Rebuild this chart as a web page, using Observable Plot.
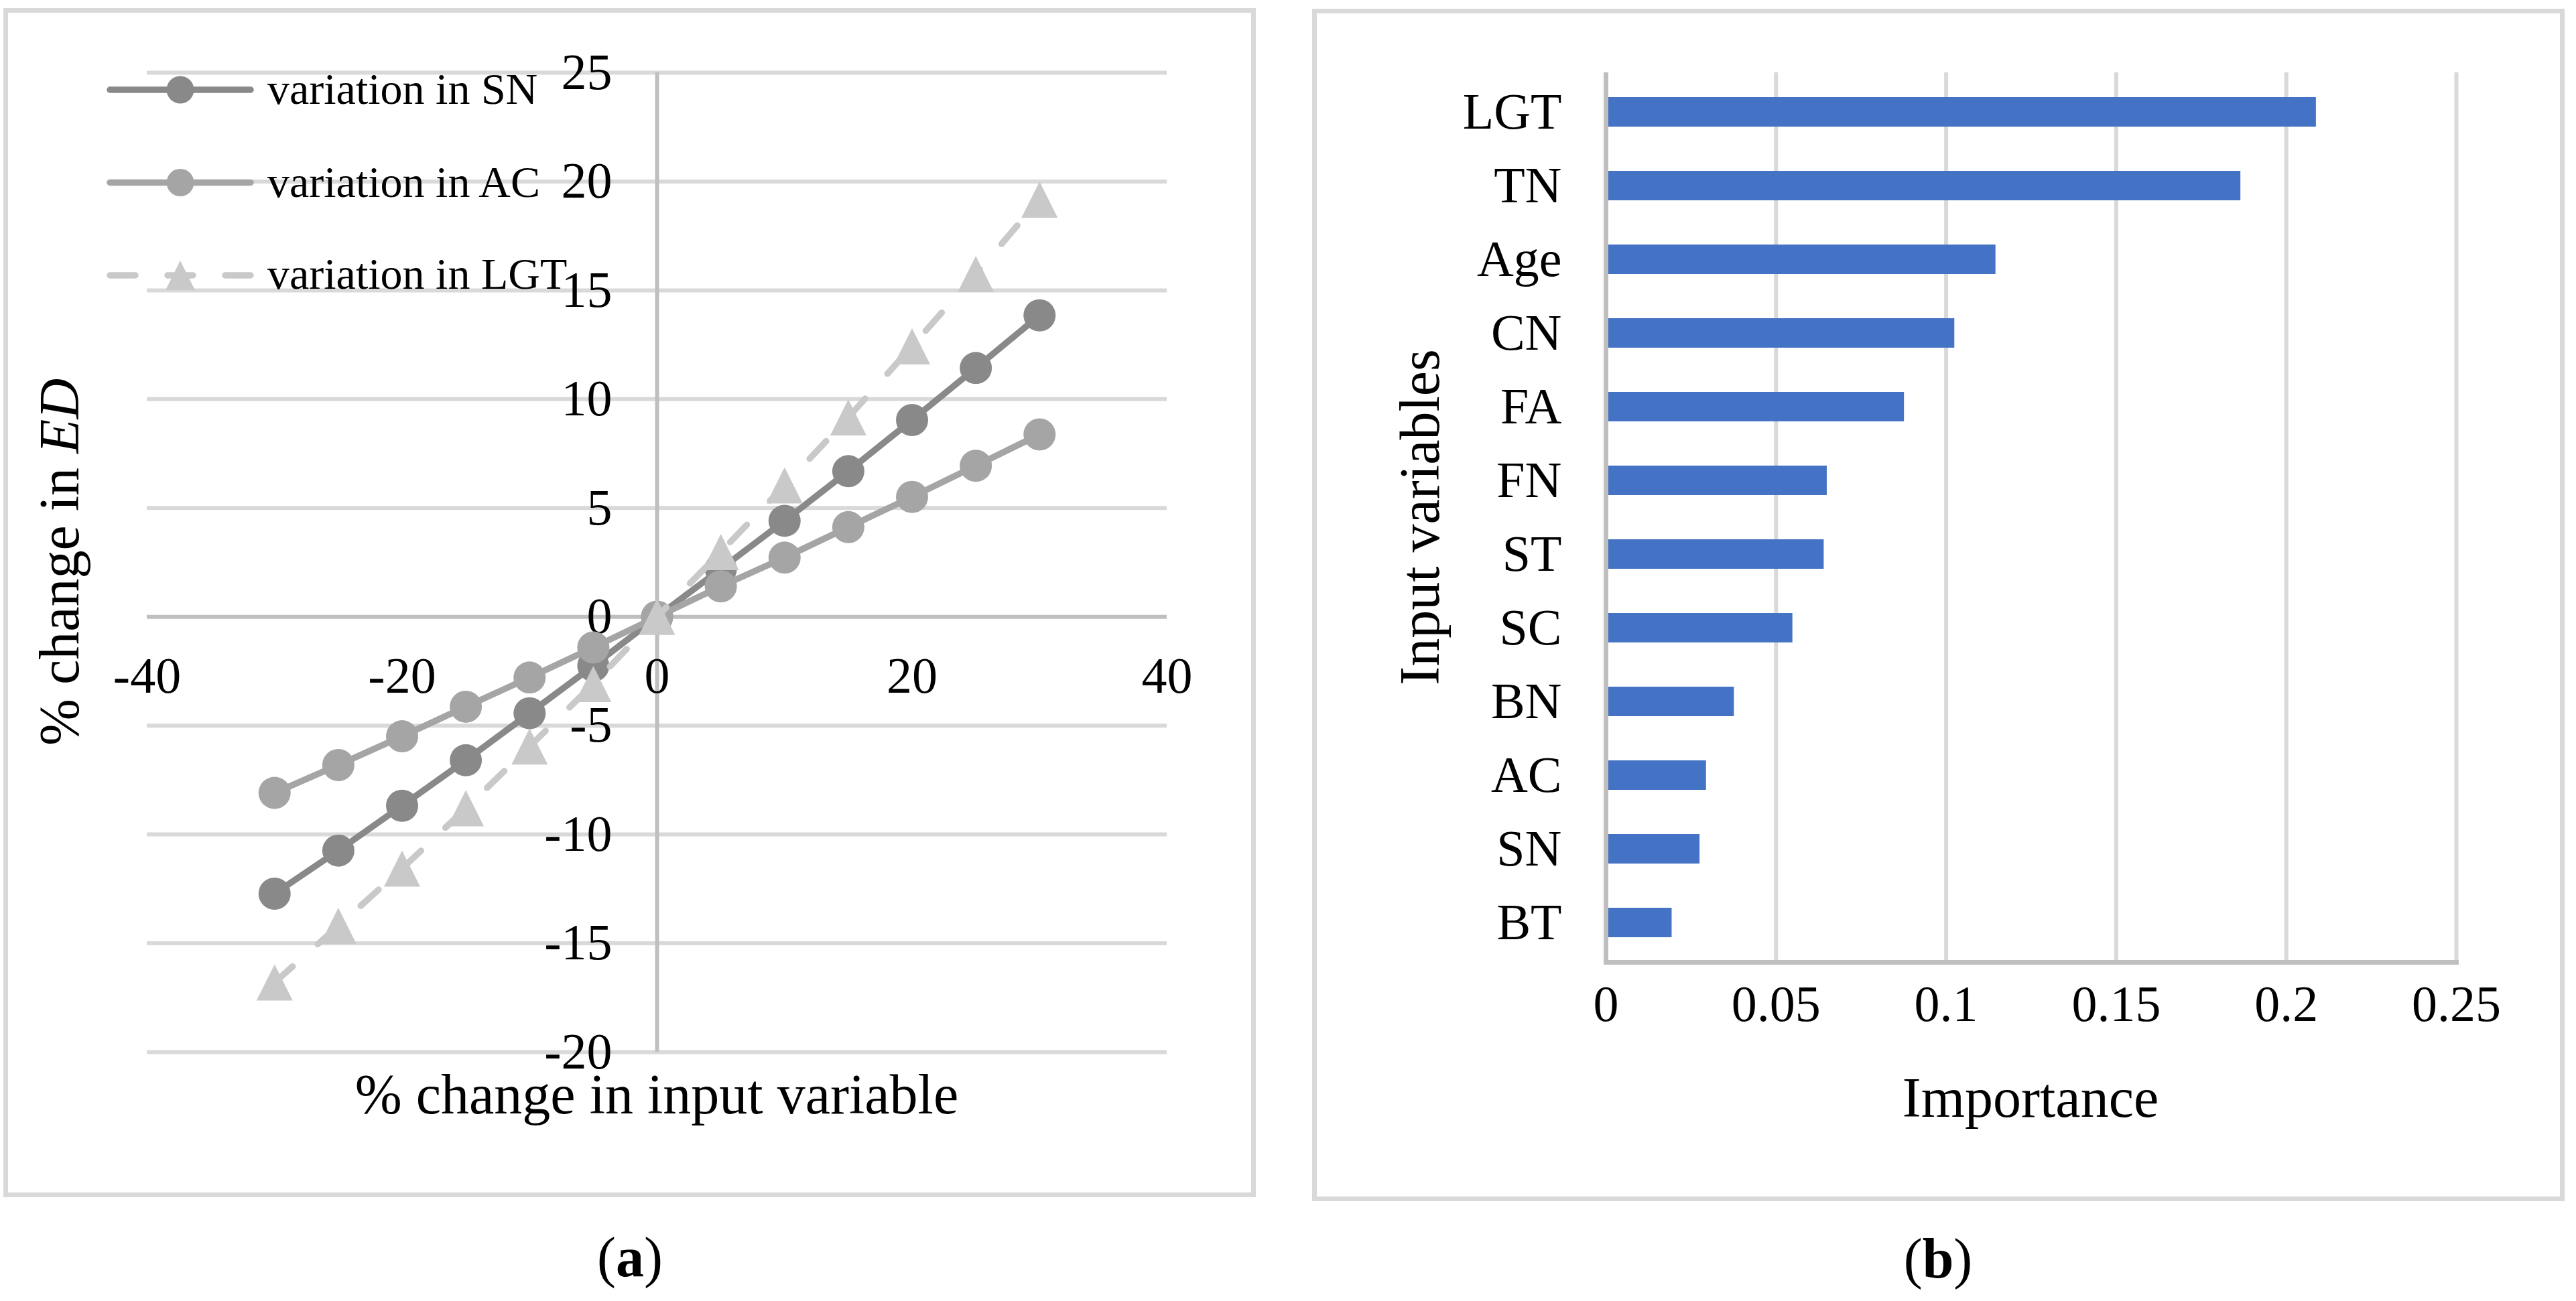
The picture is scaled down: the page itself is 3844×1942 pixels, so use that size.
<!DOCTYPE html>
<html>
<head>
<meta charset="utf-8">
<script src="https://cdn.jsdelivr.net/npm/d3@7"></script>
<script src="https://cdn.jsdelivr.net/npm/@observablehq/plot@0.6"></script>
<style>
  html, body { margin: 0; padding: 0; background: #ffffff; }
  #root { position: relative; width: 3844px; height: 1942px; overflow: hidden;
          font-family: "Liberation Serif", "Times New Roman", serif; color: #000; }
  .panel { position: absolute; box-sizing: border-box; border: 7px solid #d9d9d9; }
  .layer { position: absolute; left: 0; top: 0; }
  svg text { font-family: "Liberation Serif", "Times New Roman", serif; }
</style>
</head>
<body>
<div id="root">
  <div class="panel" style="left:5px;top:12px;width:1869px;height:1775px;"></div>
  <div class="panel" style="left:1958px;top:13px;width:1869px;height:1780px;"></div>
  <div id="left" class="layer" style="left:0px;top:0px;"></div>
  <div id="right" class="layer" style="left:1958px;top:0px;"></div>
  <svg class="layer" width="3844" height="1942" style="pointer-events:none">
    <!-- legend (a) -->
    <g>
      <line x1="164" y1="134" x2="374" y2="134" stroke="#898989" stroke-width="9.5" stroke-linecap="round"/>
      <circle cx="269" cy="134" r="20.5" fill="#898989"/>
      <text x="399" y="155" font-size="66">variation in SN</text>
      <line x1="164" y1="272.5" x2="374" y2="272.5" stroke="#a5a5a5" stroke-width="9.5" stroke-linecap="round"/>
      <circle cx="269" cy="272.5" r="20.5" fill="#a5a5a5"/>
      <text x="399" y="293.5" font-size="66">variation in AC</text>
      <line x1="164" y1="411" x2="374" y2="411" stroke="#c9c9c9" stroke-width="9.5" stroke-linecap="round" stroke-dasharray="38,48"/>
      <polygon points="269,389 291,433 247,433" fill="#c9c9c9"/>
      <text x="399" y="431" font-size="66">variation in LGT</text>
    </g>
    <!-- axis titles and captions -->
    <text transform="translate(117,839) rotate(-90)" text-anchor="middle" font-size="84">% change in <tspan font-style="italic">ED</tspan></text>
    <text x="980" y="1662" text-anchor="middle" font-size="84">% change in input variable</text>
    <text x="940" y="1905" text-anchor="middle" font-size="84">(<tspan font-weight="bold">a</tspan>)</text>
    <text transform="translate(2147,772) rotate(-90)" text-anchor="middle" font-size="84">Input variables</text>
    <text x="3030" y="1667" text-anchor="middle" font-size="84">Importance</text>
    <text x="2892" y="1907" text-anchor="middle" font-size="84">(<tspan font-weight="bold">b</tspan>)</text>
  </svg>
</div>
<script>
// ---------- data: panel (a) ----------
const xPct    = [-30, -25, -20, -15, -10, -5, 0, 5, 10, 15, 20, 25, 30];
const snVals  = [-12.72, -10.74, -8.68, -6.59, -4.43, -2.25, 0, 2.2, 4.41, 6.69, 9.04, 11.43, 13.85];
const acVals  = [-8.09, -6.81, -5.49, -4.13, -2.79, -1.41, 0, 1.40, 2.72, 4.12, 5.51, 6.94, 8.38];
const lgtVals = [-16.8, -14.2, -11.57, -8.8, -5.96, -3.09, 0, 2.98, 6.04, 9.16, 12.43, 15.75, 19.17];
const xTicks  = [-40, -20, 0, 20, 40];
const yTicks  = [-20, -15, -10, -5, 0, 5, 10, 15, 20, 25];

// ---------- data: panel (b) ----------
const variables  = ["LGT", "TN", "Age", "CN", "FA", "FN", "ST", "SC", "BN", "AC", "SN", "BT"];
const importance = [0.2088, 0.1866, 0.1146, 0.1025, 0.0877, 0.0650, 0.0641, 0.0549, 0.0377, 0.0295, 0.0276, 0.0194];
const impTicks   = [0, 0.05, 0.1, 0.15, 0.2, 0.25];

const toPoints = vals => xPct.map((x, i) => ({x, y: vals[i]}));
const snData = toPoints(snVals);
const acData = toPoints(acVals);
const lgtData = toPoints(lgtVals);
const barTable = variables.map((v, i) => ({variable: v, importance: importance[i]}));

// Excel-like isosceles triangle centred on its bounding box
const excelTriangle = {
  draw(context, size) {
    const r = Math.sqrt(size / Math.PI);
    const h = r * 1.125;
    context.moveTo(0, -h);
    context.lineTo(h, h);
    context.lineTo(-h, h);
    context.closePath();
  }
};

const baseStyle = {fontFamily: "Liberation Serif, Times New Roman, serif", background: "transparent", color: "#000", overflow: "visible"};

const left = Plot.plot({
  width: 1870, height: 1800,
  marginLeft: 219, marginRight: 129, marginTop: 108, marginBottom: 230,
  x: {domain: [-40, 40], axis: null},
  y: {domain: [-20, 25], axis: null},
  style: baseStyle,
  marks: [
    Plot.ruleY(yTicks.filter(d => d !== 0), {stroke: "#d9d9d9", strokeWidth: 6}),
    Plot.ruleY([0], {stroke: "#bfbfbf", strokeWidth: 6}),
    Plot.ruleX([0], {stroke: "#bfbfbf", strokeWidth: 6}),
    Plot.text(yTicks, {x: () => 0, y: d => d, text: d => String(d), textAnchor: "end", dx: -67, fontSize: 76, fill: "#000"}),
    Plot.text(xTicks, {x: d => d, y: () => 0, text: d => String(d), dy: 89, fontSize: 76, fill: "#000"}),
    Plot.line(snData, {x: "x", y: "y", stroke: "#898989", strokeWidth: 9.5, strokeLinejoin: "round"}),
    Plot.dot(snData, {x: "x", y: "y", r: 24, fill: "#898989"}),
    Plot.line(acData, {x: "x", y: "y", stroke: "#a5a5a5", strokeWidth: 9.5, strokeLinejoin: "round"}),
    Plot.dot(acData, {x: "x", y: "y", r: 24, fill: "#a5a5a5"}),
    Plot.line(lgtData, {x: "x", y: "y", stroke: "#c9c9c9", strokeWidth: 9.5, strokeLinecap: "round", strokeDasharray: "36,50"}),
    Plot.dot(lgtData, {x: "x", y: "y", r: 24, symbol: excelTriangle, fill: "#c9c9c9"})
  ]
});
document.getElementById("left").appendChild(left);

const right = Plot.plot({
  width: 1886, height: 1800,
  marginLeft: 438, marginRight: 179, marginTop: 108, marginBottom: 364,
  x: {domain: [0, 0.25], axis: null},
  y: {domain: variables, axis: null, paddingInner: 0.6, paddingOuter: 0.3},
  style: baseStyle,
  marks: [
    Plot.ruleX(impTicks.filter(d => d > 0), {stroke: "#d9d9d9", strokeWidth: 6}),
    Plot.frame({anchor: "bottom", stroke: "#bfbfbf", strokeWidth: 7}),
    Plot.barX(barTable, {x: "importance", y: "variable", fill: "#4472c4"}),
    Plot.ruleX([0], {stroke: "#bfbfbf", strokeWidth: 7}),
    Plot.text(variables, {y: d => d, frameAnchor: "left", dx: -66, textAnchor: "end", text: d => d, fontSize: 76, fill: "#000"}),
    Plot.text(impTicks, {x: d => d, frameAnchor: "bottom", dy: 87, text: d => String(d), fontSize: 76, fill: "#000"})
  ]
});
document.getElementById("right").appendChild(right);
</script>
</body>
</html>
